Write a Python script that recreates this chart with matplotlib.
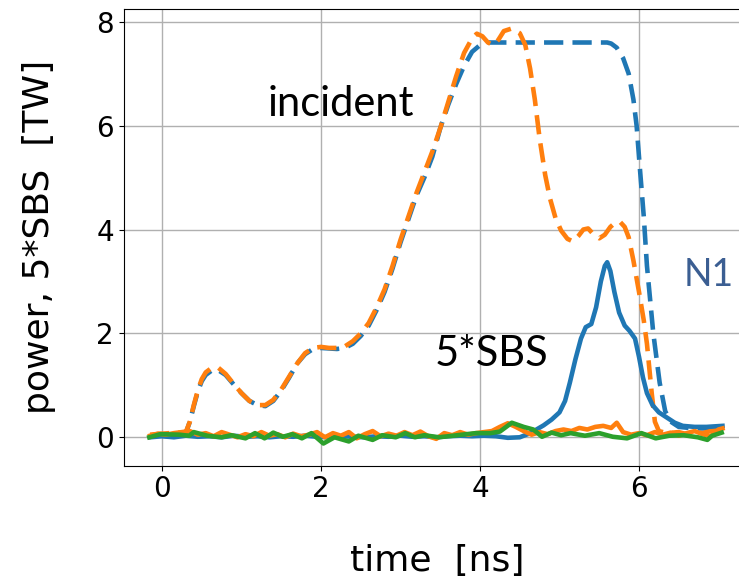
import matplotlib
matplotlib.use("Agg")
import matplotlib.pyplot as plt

# incident power (dashed), two cases
t_inc_a = [-0.15, 0.0, 0.1, 0.2, 0.3, 0.35, 0.4, 0.45, 0.5, 0.55, 0.62, 0.7, 0.8, 0.9, 1.0, 1.1, 1.2, 1.3,
           1.4, 1.5, 1.6, 1.7, 1.8, 1.9, 2.0, 2.1, 2.2, 2.3, 2.4, 2.5, 2.6, 2.7, 2.8, 2.9, 3.0, 3.1, 3.2,
           3.3, 3.4, 3.5, 3.6, 3.7, 3.8, 3.9, 4.0, 4.1, 4.2, 4.6, 5.0, 5.4, 5.6, 5.65, 5.72, 5.8, 5.87,
           5.93, 5.97, 6.01, 6.06, 6.1, 6.18, 6.26, 6.33, 6.4, 6.5, 6.7, 6.9, 7.05]
p_inc_a = [0.02, 0.03, 0.02, 0.05, 0.08, 0.3, 0.6, 0.88, 1.08, 1.2, 1.28, 1.3, 1.2, 1.02, 0.85, 0.7, 0.62, 0.6,
           0.7, 0.9, 1.15, 1.42, 1.6, 1.7, 1.72, 1.71, 1.7, 1.72, 1.8, 1.95, 2.15, 2.45, 2.8, 3.25, 3.75, 4.2, 4.65,
           5.0, 5.4, 5.95, 6.4, 6.8, 7.15, 7.42, 7.55, 7.6, 7.6, 7.6, 7.6, 7.6, 7.6, 7.58, 7.5, 7.3, 7.0,
           6.5, 6.0, 5.2, 4.25, 3.3, 2.0, 1.05, 0.5, 0.3, 0.2, 0.17, 0.17, 0.18]

t_inc_b = [-0.15, 0.0, 0.1, 0.2, 0.3, 0.35, 0.4, 0.45, 0.5, 0.55, 0.62, 0.7, 0.8, 0.9, 1.0, 1.1, 1.2, 1.3,
           1.4, 1.5, 1.6, 1.7, 1.8, 1.9, 2.0, 2.1, 2.2, 2.3, 2.4, 2.5, 2.6, 2.7, 2.8, 2.9, 3.0, 3.1, 3.2,
           3.3, 3.4, 3.5, 3.6, 3.7, 3.8, 3.9, 3.96, 4.03, 4.1, 4.17, 4.23, 4.3, 4.4, 4.5, 4.57, 4.63, 4.69,
           4.75, 4.82, 4.88, 4.95, 5.02, 5.1, 5.17, 5.24, 5.3, 5.36, 5.42, 5.5, 5.57, 5.64, 5.7, 5.76, 5.82,
           5.87, 5.93, 6.0, 6.06, 6.1, 6.16, 6.2, 6.25, 6.35, 6.5, 6.6, 6.7, 6.8, 6.9, 7.0, 7.05]
p_inc_b = [0.05, 0.07, 0.08, 0.09, 0.1, 0.3, 0.62, 0.9, 1.12, 1.25, 1.33, 1.35, 1.22, 1.03, 0.85, 0.7, 0.62, 0.62,
           0.72, 0.92, 1.17, 1.42, 1.62, 1.72, 1.74, 1.72, 1.72, 1.75, 1.85, 2.0, 2.2, 2.5, 2.85, 3.3, 3.8, 4.25, 4.7,
           5.1, 5.5, 5.95, 6.45, 6.95, 7.4, 7.68, 7.77, 7.72, 7.6, 7.55, 7.65, 7.82, 7.87, 7.78, 7.55, 7.1, 6.5,
           5.75, 5.05, 4.6, 4.22, 3.98, 3.82, 3.77, 3.88, 4.0, 4.02, 3.92, 3.83, 3.9, 4.05, 4.13, 4.15, 4.05,
           3.85, 3.4, 2.8, 2.25, 1.8, 0.85, 0.3, 0.12, 0.08, 0.1, 0.06, 0.1, 0.08, 0.12, 0.15, 0.17]

# 5*SBS (solid)
t_sbs_a = [-0.15, 0.0, 0.15, 0.3, 0.45, 0.6, 0.75, 0.9, 1.05, 1.2, 1.35, 1.5, 1.65, 1.8, 1.95, 2.1, 2.25,
           2.4, 2.55, 2.7, 2.85, 3.0, 3.15, 3.3, 3.45, 3.6, 3.75, 3.9, 4.05, 4.2, 4.35, 4.5, 4.6, 4.7, 4.8,
           4.9, 5.0, 5.07, 5.13, 5.2, 5.27, 5.33, 5.4, 5.46, 5.52, 5.57, 5.6, 5.64, 5.69, 5.75, 5.82, 5.88,
           5.95, 6.0, 6.05, 6.1, 6.17, 6.25, 6.35, 6.45, 6.55, 6.7, 6.85, 6.95, 7.05]
p_sbs_a = [0.0, 0.02, 0.0, 0.03, 0.01, 0.02, 0.0, 0.03, 0.01, 0.02, 0.0, 0.02, 0.01, 0.03, 0.01, 0.0, 0.02,
           0.01, 0.0, 0.02, 0.01, 0.03, 0.01, 0.02, 0.0, 0.02, 0.03, 0.02, 0.03, 0.02, -0.01, 0.0, 0.06, 0.14, 0.23,
           0.34, 0.48, 0.7, 1.05, 1.5, 1.9, 2.12, 2.18, 2.5, 3.0, 3.3, 3.37, 3.2, 2.8, 2.4, 2.15, 2.05,
           1.9, 1.55, 1.15, 0.85, 0.62, 0.48, 0.38, 0.28, 0.22, 0.2, 0.2, 0.21, 0.22]

t_sbs_b = [-0.15, -0.05, 0.05, 0.15, 0.25, 0.35, 0.45, 0.55, 0.65, 0.75, 0.85, 0.95, 1.05, 1.15, 1.25, 1.35,
           1.45, 1.55, 1.65, 1.75, 1.85, 1.95, 2.05, 2.15, 2.25, 2.35, 2.45, 2.55, 2.65, 2.75, 2.85, 2.95,
           3.05, 3.15, 3.25, 3.35, 3.45, 3.55, 3.65, 3.75, 3.85, 3.95, 4.05, 4.15, 4.25, 4.35, 4.45, 4.55,
           4.65, 4.75, 4.85, 4.95, 5.05, 5.15, 5.25, 5.35, 5.45, 5.55, 5.65, 5.72, 5.8, 5.9, 6.0, 6.1, 6.2,
           6.3, 6.4, 6.5, 6.6, 6.7, 6.8, 6.9, 7.0, 7.05]
p_sbs_b = [0.03, 0.07, 0.05, 0.08, 0.1, 0.12, 0.05, 0.08, 0.02, 0.1, 0.05, 0.0, 0.06, 0.02, 0.1, 0.03,
           0.06, 0.0, 0.07, 0.02, 0.05, 0.1, 0.0, 0.08, 0.03, 0.1, -0.02, 0.06, 0.12, 0.02, 0.07, 0.03,
           0.1, 0.04, 0.11, 0.02, -0.03, 0.08, 0.04, 0.1, 0.05, 0.08, 0.1, 0.12, 0.2, 0.27, 0.2, 0.12,
           0.05, 0.1, 0.06, 0.12, 0.15, 0.12, 0.18, 0.15, 0.2, 0.22, 0.18, 0.28, 0.1, 0.05, 0.08, 0.04, 0.1,
           0.05, 0.09, 0.03, 0.08, 0.12, 0.06, 0.02, 0.15, 0.17]

t_sbs_c = [-0.16, -0.02, 0.22, 0.34, 0.4, 0.57, 0.75, 0.87, 1.05, 1.17, 1.29, 1.4, 1.52, 1.64, 1.76, 1.88,
           2.03, 2.17, 2.35, 2.47, 2.65, 2.77, 2.94, 3.06, 3.18, 3.3, 3.48, 3.66, 3.83, 3.95, 4.13, 4.25,
           4.4, 4.55, 4.67, 4.78, 4.9, 5.02, 5.14, 5.32, 5.5, 5.67, 5.85, 6.03, 6.21, 6.38, 6.56, 6.74,
           6.86, 6.92, 7.04]
p_sbs_c = [0.0, 0.06, 0.05, 0.03, 0.1, 0.03, 0.0, 0.04, -0.02, 0.08, -0.02, 0.09, 0.01, 0.06, -0.02, 0.08,
           -0.12, 0.0, -0.08, 0.03, -0.05, 0.04, 0.0, 0.08, 0.0, 0.04, 0.0, 0.03, 0.06, 0.08, 0.08, 0.11,
           0.28, 0.2, 0.15, 0.01, 0.09, 0.04, 0.08, 0.03, 0.08, 0.01, -0.02, 0.08, -0.02, 0.03, 0.04, 0.0,
           -0.05, 0.03, 0.09]

x_ticks = [0, 2, 4, 6]
y_ticks = [0, 2, 4, 6, 8]

W, H = 739, 579
fig = plt.figure(figsize=(W / 100, H / 100), dpi=100)
left, right, top, bottom = 123.6, 750.3, 9.0, 465.7
ax = fig.add_axes([left / W, 1 - bottom / H, (right - left) / W, (bottom - top) / H])

lw = 3.3
ax.plot(t_inc_a, p_inc_a, color="#1f77b4", lw=lw, ls=(0, (4.2, 2.0)), zorder=3)
ax.plot(t_inc_b, p_inc_b, color="#ff7f0e", lw=lw, ls=(0, (4.2, 2.0)), zorder=3)
ax.plot(t_sbs_a, p_sbs_a, color="#1f77b4", lw=lw, zorder=3)
ax.plot(t_sbs_b, p_sbs_b, color="#ff7f0e", lw=lw, zorder=3)
ax.plot(t_sbs_c, p_sbs_c, color="#2ca02c", lw=lw, zorder=3)

ax.set_xlim(-0.483, 7.4)
ax.set_ylim(-0.547, 8.245)
ax.set_xticks(x_ticks)
ax.set_yticks(y_ticks)
ax.tick_params(labelsize=20)
ax.grid(True, color="#b0b0b0", lw=1.0)
ax.set_axisbelow(True)
ax.set_xlabel("time  [ns]", fontsize=26, labelpad=29)
ax.set_ylabel("power, 5*SBS  [TW]", fontsize=26, labelpad=29)

ax.text(2.25, 6.42, "incident", fontsize=30, family="Lato", ha="center", va="center", color="black")
ax.text(4.14, 1.6, "5*SBS", fontsize=30, family="Lato", ha="center", va="center", color="black")
ax.text(6.56, 3.13, "N1", fontsize=27, family="Lato", ha="left", va="center", color="#3b5e92")

fig.savefig("out.png", dpi=100)
